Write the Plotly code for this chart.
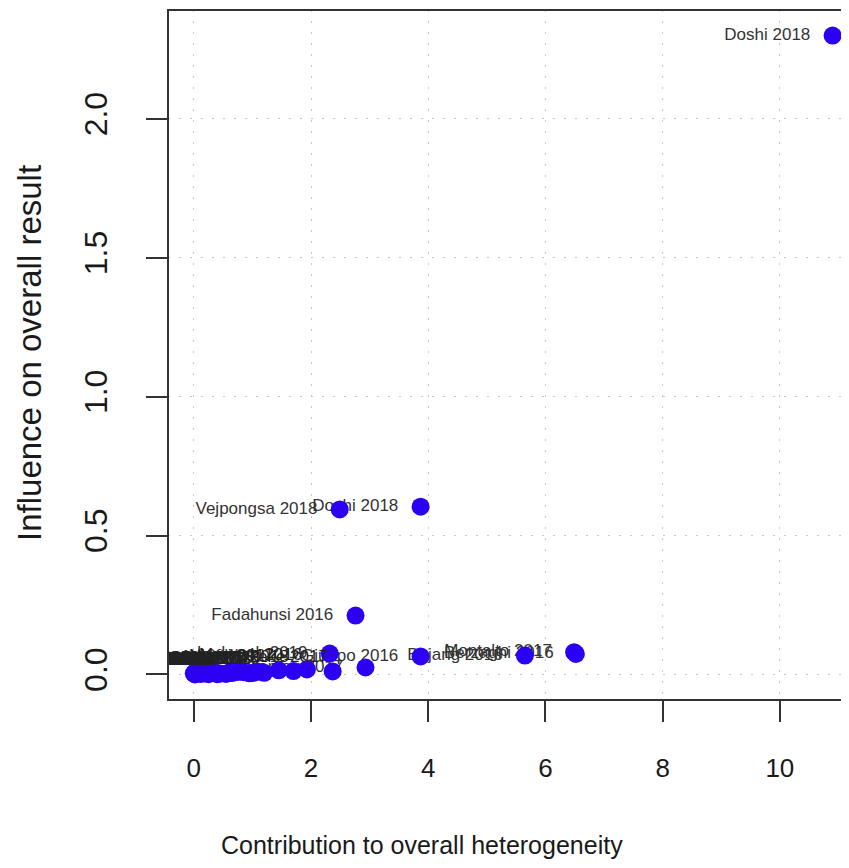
import plotly.graph_objects as go

# ---- data ----
studies = [
    "Doshi 2018", "Doshi 2018", "Vejpongsa 2018", "Fadahunsi 2016",
    "Montalto 2017", "Berzaghi 2016", "Bojang 2016", "Giuppo 2016",
    "Ledwach 2019", "Kamau 2017", "Okeke 2017", "Mensah 2016",
    "Adeyemi 2018", "Nkosi 2017", "Tanaka 2016", "Osei 2019",
    "Baker 2018", "Alvarez 2017", "Chen 2016", "Kumar 2018",
    "Silva 2019", "Haddad 2017", "Ibrahim 2016", "Nguyen 2018",
    "Mwangi 2016", "Owusu 2017", "Sato 2018", "Rossi 2016",
    "Patel 2019", "Lopez 2017", "Yilmaz 2018", "Hassan 2016",
    "Garcia 2017", "Kim 2018", "Ali 2016", "Novak 2019",
]
heterogeneity = [
    10.90, 3.87, 2.49, 2.76,
    6.49, 6.52, 5.65, 3.87,
    2.32, 2.93, 2.37, 1.93,
    1.70, 1.45, 1.20, 1.00,
    0.85, 0.55, 0.40, 0.25,
    0.12, 0.05, 0.00, 0.02,
    0.08, 0.18, 0.30, 0.45,
    0.65, 0.75, 0.95, 1.10,
    0.03, 0.15, 0.35, 0.60,
]
influence = [
    2.300, 0.604, 0.594, 0.212,
    0.080, 0.074, 0.068, 0.065,
    0.075, 0.025, 0.011, 0.018,
    0.012, 0.015, 0.006, 0.005,
    0.008, 0.002, 0.001, 0.001,
    0.002, 0.003, 0.004, 0.000,
    0.006, 0.004, 0.007, 0.003,
    0.005, 0.009, 0.004, 0.010,
    0.009, 0.008, 0.010, 0.007,
]
x_ticks = [0, 2, 4, 6, 8, 10]
y_ticks = [0.0, 0.5, 1.0, 1.5, 2.0]
y_ticktext = ["0.0", "0.5", "1.0", "1.5", "2.0"]

FONT = "Liberation Sans, Arial, sans-serif"

# crowded points near the origin: labels set tighter to the dot, drawn on top
near = [(h < 2.45 and v < 0.03) for h, v in zip(heterogeneity, influence)]
far_x = [h for h, n in zip(heterogeneity, near) if not n]
far_y = [v for v, n in zip(influence, near) if not n]
far_t = [s for s, n in zip(studies, near) if not n]
near_x = [h for h, n in zip(heterogeneity, near) if n]
near_y = [v for v, n in zip(influence, near) if n]
near_t = [s for s, n in zip(studies, near) if n]

fig = go.Figure()

fig.add_trace(go.Scatter(
    x=far_x, y=far_y, text=far_t,
    mode="markers+text", textposition="middle left",
    marker=dict(size=34, opacity=0),
    textfont=dict(family=FONT, size=17, color="#333333"),
    cliponaxis=True, hoverinfo="skip", showlegend=False,
))
# dots
fig.add_trace(go.Scatter(
    x=heterogeneity, y=influence, mode="markers",
    marker=dict(size=18, color="#2c00f2", line=dict(width=0)),
    cliponaxis=True, showlegend=False,
))
fig.add_trace(go.Scatter(
    x=near_x, y=near_y, text=near_t,
    mode="markers+text", textposition="top left",
    marker=dict(size=0, opacity=0),
    textfont=dict(family=FONT, size=17, color="#222222"),
    cliponaxis=True, hoverinfo="skip", showlegend=False,
))

# page body has an 8px margin: figure is sized/offset to compensate
fig.update_layout(
    width=841, height=860,
    margin=dict(l=160, r=0, t=2, b=168),
    paper_bgcolor="white", plot_bgcolor="white",
    font=dict(family=FONT, color="#1a1a1a"),
    xaxis=dict(
        range=[-0.44, 11.18], tickvals=x_ticks,
        ticks="outside", ticklen=21, tickwidth=1.5, tickcolor="#333",
        tickfont=dict(family=FONT, size=26, color="#1a1a1a"),
        ticklabelstandoff=24,
        showgrid=True, gridcolor="#c8c8c8", griddash="2px,9px", gridwidth=1.2,
        zeroline=False, showline=False,
    ),
    yaxis=dict(
        range=[-0.092, 2.392], tickvals=y_ticks, ticktext=y_ticktext,
        tickangle=-90,
        ticks="outside", ticklen=21, tickwidth=1.5, tickcolor="#333",
        tickfont=dict(family=FONT, size=32, color="#1a1a1a"),
        ticklabelstandoff=26,
        showgrid=True, gridcolor="#c8c8c8", griddash="2px,9px", gridwidth=1.2,
        zeroline=False, showline=False,
    ),
    shapes=[dict(type="rect", xref="paper", yref="paper",
                 x0=0, x1=1.2, y0=0, y1=1,
                 line=dict(color="#333", width=2), layer="above")],
    annotations=[
        dict(text="Contribution to overall heterogeneity", xref="paper", yref="paper",
             x=0.373, y=0, yshift=-145, xanchor="center", yanchor="middle",
             showarrow=False, font=dict(family=FONT, size=25, color="#1a1a1a")),
        dict(text="Influence on overall result", xref="paper", yref="paper",
             x=-0.2026, y=0.503, xanchor="center", yanchor="middle", textangle=-90,
             showarrow=False, font=dict(family=FONT, size=33, color="#1a1a1a")),
    ],
)

fig.write_html("out.html")
